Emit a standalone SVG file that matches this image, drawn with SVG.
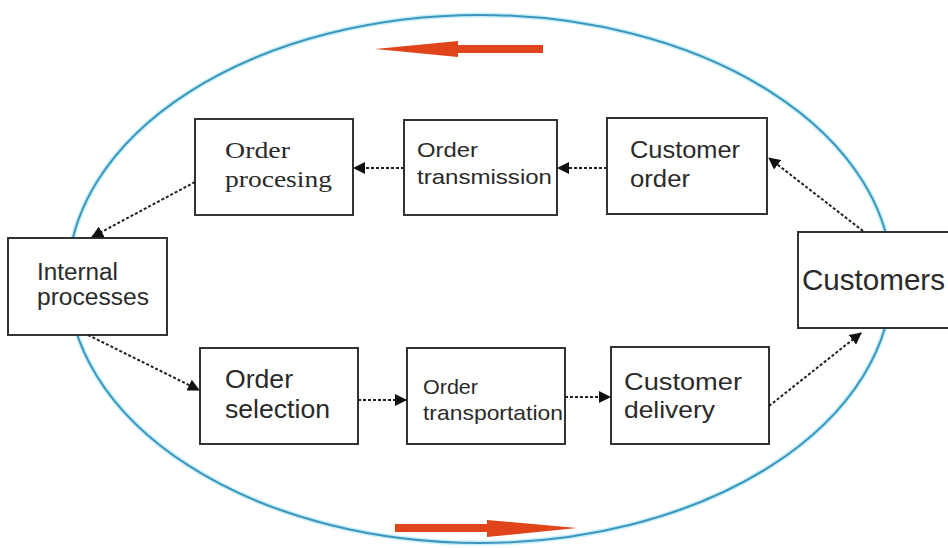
<svg xmlns="http://www.w3.org/2000/svg" width="948" height="548" viewBox="0 0 948 548">
  <defs>
    <marker id="ah" markerWidth="12" markerHeight="12" refX="11" refY="6" orient="auto" markerUnits="userSpaceOnUse">
      <path d="M0,0 L12,6 L0,12 z" fill="#111"/>
    </marker>
    <style>
      .box { fill: #fff; stroke: #333; stroke-width: 2; }
      .sans { font-family: "Liberation Sans", Arial, sans-serif; fill: #2a2a2a; }
      .serif { font-family: "Liberation Serif", "Times New Roman", serif; fill: #2a2a2a; }
      .conn { stroke: #222; stroke-width: 2; stroke-dasharray: 3 2; fill: none; marker-end: url(#ah); }
      .red { fill: #e0441a; }
    </style>
  </defs>
  <rect width="948" height="548" fill="#fff"/>
  <ellipse cx="480" cy="279" rx="412" ry="264" fill="none" stroke="#c8f0f8" stroke-width="5"/>
  <ellipse cx="480" cy="279" rx="412" ry="264" fill="none" stroke="#3d95bd" stroke-width="2"/>

  <g id="flow-arrows">
    <polygon class="red" points="375,49 458,41 458,45 543,45 543,53 458,53 458,57"/>
    <polygon class="red" points="577,528 487,520 487,524 395,524 395,532 487,532 487,537"/>
  </g>

  <g id="node-order-procesing">
    <rect class="box" x="195" y="119" width="158" height="96"/>
    <text class="serif" font-size="24" x="225" y="158" textLength="65" lengthAdjust="spacingAndGlyphs">Order</text>
    <text class="serif" font-size="24" x="225" y="187" textLength="107" lengthAdjust="spacingAndGlyphs">procesing</text>
  </g>
  <g id="node-order-transmission">
    <rect class="box" x="404" y="120" width="153" height="95"/>
    <text class="sans" font-size="21" x="417" y="157" textLength="61" lengthAdjust="spacingAndGlyphs">Order</text>
    <text class="sans" font-size="21" x="417" y="184" textLength="135" lengthAdjust="spacingAndGlyphs">transmission</text>
  </g>
  <g id="node-customer-order">
    <rect class="box" x="607" y="118" width="160" height="96"/>
    <text class="sans" font-size="23" x="630" y="158" textLength="110" lengthAdjust="spacingAndGlyphs">Customer</text>
    <text class="sans" font-size="23" x="630" y="187" textLength="60" lengthAdjust="spacingAndGlyphs">order</text>
  </g>
  <g id="node-internal-processes">
    <rect class="box" x="8" y="238" width="159" height="97"/>
    <text class="sans" font-size="23" x="37" y="280" textLength="81" lengthAdjust="spacingAndGlyphs">Internal</text>
    <text class="sans" font-size="23" x="37" y="305" textLength="112" lengthAdjust="spacingAndGlyphs">processes</text>
  </g>
  <g id="node-customers">
    <rect class="box" x="798" y="232" width="152" height="96"/>
    <text class="sans" font-size="29" x="802" y="290" textLength="143" lengthAdjust="spacingAndGlyphs">Customers</text>
  </g>
  <g id="node-order-selection">
    <rect class="box" x="200" y="348" width="158" height="96"/>
    <text class="sans" font-size="25" x="225" y="388" textLength="68" lengthAdjust="spacingAndGlyphs">Order</text>
    <text class="sans" font-size="25" x="225" y="418" textLength="105" lengthAdjust="spacingAndGlyphs">selection</text>
  </g>
  <g id="node-order-transportation">
    <rect class="box" x="407" y="348" width="158" height="96"/>
    <text class="sans" font-size="21" x="423" y="394" textLength="55" lengthAdjust="spacingAndGlyphs">Order</text>
    <text class="sans" font-size="21" x="423" y="420" textLength="140" lengthAdjust="spacingAndGlyphs">transportation</text>
  </g>
  <g id="node-customer-delivery">
    <rect class="box" x="611" y="347" width="158" height="97"/>
    <text class="sans" font-size="24" x="624" y="390" textLength="118" lengthAdjust="spacingAndGlyphs">Customer</text>
    <text class="sans" font-size="24" x="624" y="418" textLength="91" lengthAdjust="spacingAndGlyphs">delivery</text>
  </g>

  <g id="connectors">
    <line class="conn" x1="607" y1="168" x2="558" y2="168"/>
    <line class="conn" x1="404" y1="168" x2="354" y2="168"/>
    <line class="conn" x1="195" y1="182" x2="92" y2="237"/>
    <line class="conn" x1="88" y1="335" x2="199" y2="390"/>
    <line class="conn" x1="358" y1="400" x2="406" y2="400"/>
    <line class="conn" x1="565" y1="397" x2="610" y2="397"/>
    <line class="conn" x1="769" y1="406" x2="861" y2="333"/>
    <line class="conn" x1="863" y1="231" x2="769" y2="158"/>
  </g>
</svg>
